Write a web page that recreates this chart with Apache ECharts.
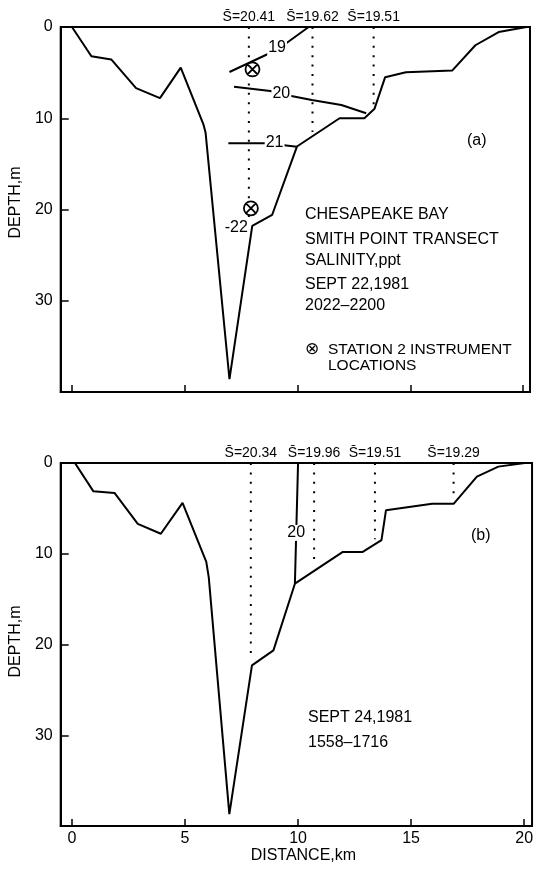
<!DOCTYPE html>
<html><head><meta charset="utf-8">
<script src="https://cdn.jsdelivr.net/npm/echarts@6/dist/echarts.min.js"></script>
<style>html,body{margin:0;padding:0;background:#fff}#c{width:536px;height:871px}</style>
</head><body><div id="c"></div>
<script>
// ---------- DATA ----------
// Panel (a): bottom profile, distance (km) and depth (m)
const bathyDistA  = [0, 0.86, 1.74, 2.84, 3.9, 4.82, 5.83, 5.92, 6.98, 7.99, 8.87, 9.97, 11.86, 12.96, 13.41, 13.88, 14.8, 16.86, 17.88, 18.91, 20.15];
const bathyDepthA = [0, 3.2, 3.55, 6.7, 7.8, 4.45, 10.7, 11.55, 38.6, 21.8, 20.6, 13.1, 10.0, 10.0, 8.95, 5.5, 4.95, 4.76, 2.0, 0.55, 0];
// Panel (b)
const bathyDistB  = [0.13, 0.94, 1.88, 2.91, 3.93, 4.89, 5.94, 6.05, 6.96, 7.96, 8.91, 9.86, 11.98, 12.86, 13.69, 13.89, 15.93, 16.88, 17.91, 18.86, 20.03];
const bathyDepthB = [0, 3.1, 3.3, 6.7, 7.8, 4.4, 10.9, 12.6, 38.7, 22.3, 20.65, 13.3, 9.8, 9.8, 8.5, 5.2, 4.5, 4.5, 1.5, 0.4, 0];

// Salinity isolines, panel (a)
const iso19Dist  = [6.98, 8.78, 9.39, 10.49];
const iso19Depth = [4.93, 2.85, 1.97, 0];
const iso20Dist  = [7.18, 8.79, 9.72, 10.63, 11.94, 13.04];
const iso20Depth = [6.54, 7.01, 7.56, 8.0, 8.55, 9.46];
const iso21Dist  = [6.93, 8.65, 9.31, 9.97];
const iso21Depth = [12.75, 12.75, 12.93, 13.12];
const isoLabelsA     = ['19', '20', '21', '-22'];
const isoLabelDistA  = [9.09, 9.28, 8.98, 7.28];
const isoLabelDepthA = [2.3, 7.3, 12.7, 22.0];
// Salinity isoline, panel (b)
const iso20bDist  = [10.0, 9.86];
const iso20bDepth = [0, 13.3];
const isoLabelsB     = ['20'];
const isoLabelDistB  = [9.92];
const isoLabelDepthB = [7.7];

// Stations (depth-mean salinity), panel (a) and (b)
const stationDistA   = [7.84, 10.66, 13.37];
const stationMeanA   = ['20.41', '19.62', '19.51'];
const stationBottomA = [21.5, 11.5, 8.7];
const stationDistB   = [7.91, 10.71, 13.4, 16.88];
const stationMeanB   = ['20.34', '19.96', '19.51', '19.29'];
const stationBottomB = [21.5, 11.3, 8.4, 3.6];

// Station 2 instrument locations, panel (a)
const instrDist  = [8.0, 7.93];
const instrDepth = [4.64, 19.87];

// Axis ticks
const xTicks = [0, 5, 10, 15, 20];
const yTicks = [0, 10, 20, 30];

// ---------- CHART ----------
const F = 'Liberation Sans';
const zip = (a, b) => a.map((v, i) => [v, b[i]]);
const chart = echarts.init(document.getElementById('c'), null, {renderer: 'canvas'});
const black = '#000';

function xAxis(gi, max, labels) {
  return {
    type: 'value', gridIndex: gi, min: -0.5, max: max,
    splitLine: {show: false},
    axisLine: {show: true, onZero: false, lineStyle: {color: black, width: 2}},
    axisTick: {show: true, inside: true, length: 7, customValues: xTicks, lineStyle: {color: black, width: 1.5}},
    axisLabel: {show: labels, customValues: xTicks, color: black, fontFamily: F, fontSize: 16, margin: 5},
    name: labels ? 'DISTANCE,km' : '', nameLocation: 'middle', nameGap: 22,
    nameTextStyle: {color: black, fontFamily: F, fontSize: 16, padding: [0, 0, 0, 14]}
  };
}
function yAxis(gi, pad) {
  return {
    type: 'value', gridIndex: gi, inverse: true, min: 0, max: 40,
    splitLine: {show: false},
    axisLine: {show: true, onZero: false, lineStyle: {color: black, width: 2}},
    axisTick: {show: true, inside: true, length: 8, customValues: yTicks, lineStyle: {color: black, width: 1.5}},
    axisLabel: {customValues: yTicks, color: black, fontFamily: F, fontSize: 16, margin: 8},
    name: 'DEPTH,m', nameLocation: 'middle', nameGap: 28,
    nameTextStyle: {color: black, fontFamily: F, fontSize: 16, padding: pad}
  };
}

const series = [];
function line(gi, data, extra) {
  series.push(Object.assign({
    type: 'line', xAxisIndex: gi, yAxisIndex: gi, data: data, symbol: 'none',
    lineStyle: {color: black, width: 2}, silent: true, animation: false
  }, extra || {}));
}
// bathymetry
line(0, zip(bathyDistA, bathyDepthA));
line(1, zip(bathyDistB, bathyDepthB));
// isolines
line(0, zip(iso19Dist, iso19Depth));
line(0, zip(iso20Dist, iso20Depth));
line(0, zip(iso21Dist, iso21Depth));
line(1, zip(iso20bDist, iso20bDepth));
// station dotted verticals
function stations(gi, dists, bottoms, means) {
  dists.forEach((d, i) => {
    line(gi, [[d, 0], [d, bottoms[i]]], {lineStyle: {color: black, width: 2, type: [2, 7.4]}});
  });
  series.push({
    type: 'scatter', xAxisIndex: gi, yAxisIndex: gi, symbolSize: 0, silent: true, animation: false,
    itemStyle: {opacity: 1},
    data: dists.map((d, i) => ({value: [d, 0], name: means[i]})),
    label: {show: true, position: 'top', distance: 3, color: black, opacity: 1, fontFamily: F, fontSize: 14,
      formatter: p => 'S\u0304=' + p.name}
  });
}
stations(0, stationDistA, stationBottomA, stationMeanA);
stations(1, stationDistB, stationBottomB, stationMeanB);
// isoline labels
function isoLabels(gi, labels, dists, depths) {
  series.push({
    type: 'scatter', xAxisIndex: gi, yAxisIndex: gi, symbolSize: 0, silent: true, animation: false, z: 10,
    itemStyle: {opacity: 1},
    data: dists.map((d, i) => ({value: [d, depths[i]], name: labels[i]})),
    label: {show: true, position: 'inside', color: black, opacity: 1, fontFamily: F, fontSize: 16,
      backgroundColor: '#fff', padding: [0, 1], formatter: p => p.name}
  });
}
isoLabels(0, isoLabelsA, isoLabelDistA, isoLabelDepthA);
isoLabels(1, isoLabelsB, isoLabelDistB, isoLabelDepthB);
// instrument markers
series.push({
  type: 'scatter', xAxisIndex: 0, yAxisIndex: 0, silent: true, animation: false, z: 12,
  symbol: 'path://M0,10A10,10,0,1,1,20,10A10,10,0,1,1,0,10ZM3,3L17,17M17,3L3,17',
  symbolSize: 14, itemStyle: {color: '#fff', borderColor: black, borderWidth: 1.8, opacity: 1},
  data: zip(instrDist, instrDepth)
});

function txt(x, y, s, size, fam) {
  return {type: 'text', x: x, y: y, silent: true,
    style: {text: s, font: (size || 16) + 'px "' + (fam || F) + '"', fill: black, align: 'left', verticalAlign: 'middle'}};
}

chart.setOption({
  animation: false,
  backgroundColor: '#fff',
  grid: [
    {left: 57, right: 6, top: 27, height: 365, show: true, borderColor: black, borderWidth: 2},
    {left: 59, right: 2, top: 463, height: 363, show: true, borderColor: black, borderWidth: 2}
  ],
  xAxis: [xAxis(0, 20.3, false), xAxis(1, 20.35, true)],
  yAxis: [yAxis(0, [0, 0, 0, 14]), yAxis(1, [0, 0, 0, 6])],
  series: series,
  graphic: [
    txt(305, 215, 'CHESAPEAKE BAY'),
    txt(305, 240, 'SMITH POINT TRANSECT'),
    txt(305, 261, 'SALINITY,ppt'),
    txt(305, 285, 'SEPT 22,1981'),
    txt(305, 306, '2022\u20132200'),
    txt(305, 350, '\u2297', 17, 'DejaVu Sans'),
    txt(328, 350, 'STATION 2 INSTRUMENT', 15.5),
    txt(328, 366, 'LOCATIONS', 15.5),
    txt(467, 141, '(a)'),
    txt(471, 536, '(b)'),
    txt(308, 718, 'SEPT 24,1981'),
    txt(308, 743, '1558\u20131716')
  ]
});
</script></body></html>
